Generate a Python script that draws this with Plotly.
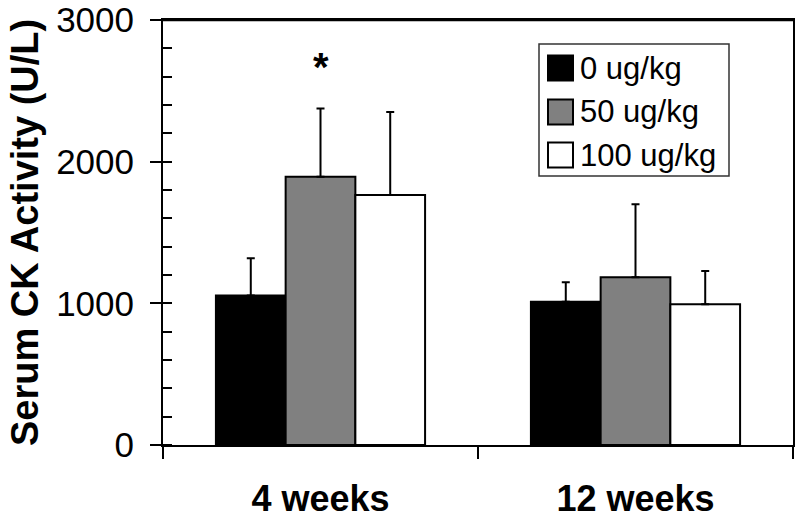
import plotly.graph_objects as go

categories = ["4 weeks", "12 weeks"]
series_names = ["0 ug/kg", "50 ug/kg", "100 ug/kg"]
series_colors = ["#000000", "#808080", "#ffffff"]
values_0 = [1055, 1012]
values_50 = [1894, 1184]
values_100 = [1765, 993]
err_0 = [264, 136]
err_50 = [482, 515]
err_100 = [586, 235]
y_ticks = [0, 1000, 2000, 3000]
y_title = "Serum CK Activity (U/L)"
sig_label = "*"

values = [values_0, values_50, values_100]
errors = [err_0, err_50, err_100]

FONT = "Liberation Sans, Arial, sans-serif"
W, H = 800, 518
L, R, T, B = 163, 7, 20, 73
PW, PH = W - L - R, H - T - B


def px_x(x):
    return (x - L) / PW


def px_y(y):
    return 1 - (y - T) / PH


fig = go.Figure()
for name, col, v, e in zip(series_names, series_colors, values, errors):
    fig.add_trace(go.Bar(
        x=categories, y=v, name=name,
        marker=dict(color=col, line=dict(color="black", width=2)),
        error_y=dict(type="data", array=e, arrayminus=[0] * len(e), symmetric=False,
                     color="black", thickness=2, width=4),
        showlegend=False,
    ))

# significance marker above the 50 ug/kg bar of the first group
fig.add_annotation(x=categories[0], y=values_50[0] + err_50[0] + 295, text="<b>%s</b>" % sig_label,
                   showarrow=False, font=dict(family=FONT, size=40, color="black"))

# y-axis title
fig.add_annotation(xref="paper", yref="paper", x=px_x(25), y=px_y(233), textangle=-90,
                   xanchor="center", yanchor="middle", text=y_title, showarrow=False,
                   font=dict(family=FONT, size=38, color="black", weight="bold"))

# top frame line
shapes = [dict(type="line", xref="paper", yref="paper", x0=0, x1=1, y0=1, y1=1,
               line=dict(color="black", width=2.5), layer="above")]
# legend box drawn in pixel space
shapes.append(dict(type="rect", xref="paper", yref="paper",
                   x0=px_x(539), x1=px_x(729), y0=px_y(176), y1=px_y(44),
                   line=dict(color="#333333", width=1.5), fillcolor="white", layer="above"))
row_y = [68, 112, 155]
for name, col, ry in zip(series_names, series_colors, row_y):
    shapes.append(dict(type="rect", xref="paper", yref="paper",
                       x0=px_x(548), x1=px_x(573), y0=px_y(ry + 12.5), y1=px_y(ry - 12.5),
                       line=dict(color="black", width=2), fillcolor=col, layer="above"))
    fig.add_annotation(xref="paper", yref="paper", x=px_x(578), y=px_y(ry),
                       xanchor="left", yanchor="middle", text=name, showarrow=False,
                       font=dict(family=FONT, size=31, color="black"))

fig.update_layout(
    width=W, height=H,
    margin=dict(l=L, r=R, t=T, b=B, autoexpand=False),
    paper_bgcolor="white", plot_bgcolor="white",
    barmode="group", bargap=0.336, bargroupgap=0,
    font=dict(family=FONT, color="black"),
    shapes=shapes,
)

fig.update_xaxes(
    type="category", range=[-0.5, 1.5], tickson="boundaries", automargin=False,
    ticks="outside", ticklen=12, tickwidth=2, tickcolor="black",
    showline=True, linewidth=2, linecolor="black", mirror=True,
    showgrid=False, zeroline=False,
    tickfont=dict(family=FONT, size=36, color="black", weight="bold"),
    ticklabelstandoff=21,
)
fig.update_yaxes(
    range=[0, 3000], tickvals=y_ticks, automargin=False,
    ticks="outside", ticklen=11, tickwidth=2, tickcolor="black",
    minor=dict(dtick=200, tick0=0, ticks="inside", ticklen=9, tickwidth=2, tickcolor="black"),
    showline=True, linewidth=2, linecolor="black", mirror=True,
    showgrid=False, zeroline=False,
    tickfont=dict(family=FONT, size=35, color="black"),
    ticklabelstandoff=9, ticklabeloverflow="allow",
)
# inner half of the major ticks (ticks cross the axis line)
fig.update_layout(yaxis2=dict(
    overlaying="y", anchor="x", side="left", matches="y", automargin=False,
    tickvals=y_ticks, ticks="inside", ticklen=11, tickwidth=2, tickcolor="black",
    showticklabels=False, showline=False, showgrid=False, zeroline=False,
))

fig.write_html("out.html", config={"displayModeBar": False},
               post_script="document.body.style.margin='0';")
